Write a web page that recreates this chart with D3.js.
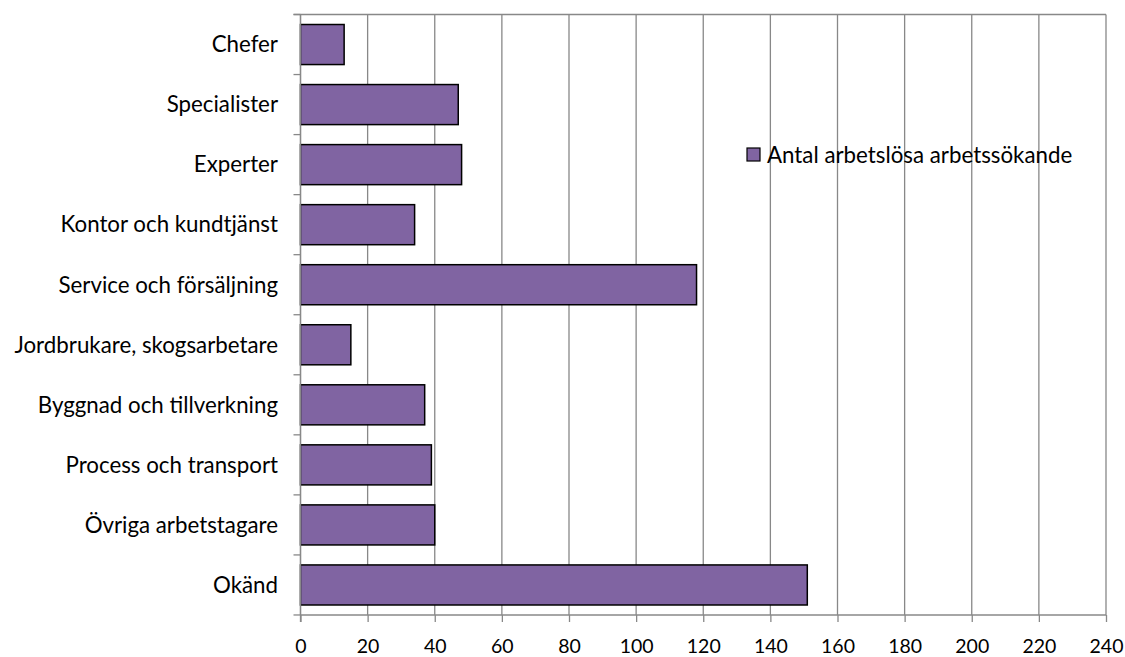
<!DOCTYPE html>
<html><head><meta charset="utf-8">
<script src="https://cdn.jsdelivr.net/npm/d3@7"></script>
<style>
html,body{margin:0;padding:0;background:#fff;}
text{font-family:Lato,"Open Sans",sans-serif;fill:#000;}
</style></head>
<body><svg id="c" width="1125" height="657"></svg>
<script>
const categories = ["Chefer","Specialister","Experter","Kontor och kundtjänst","Service och försäljning","Jordbrukare, skogsarbetare","Byggnad och tillverkning","Process och transport","Övriga arbetstagare","Okänd"];
const values = [13,47,48,34,118,15,37,39,40,151];
const xTicks = [0,20,40,60,80,100,120,140,160,180,200,220,240];
const seriesName = "Antal arbetslösa arbetssökande";

const svg = d3.select("#c");
const L=300.5, R=1106, T=14.5, B=615;
const gridColor="#888888";
const FS=22.3;
const x = d3.scaleLinear().domain([0,240]).range([L,R]);
const y = d3.scaleBand().domain(categories).range([T,B]).paddingInner(0.333).paddingOuter(0.1667);

// gridlines
svg.append("g").selectAll("line").data(xTicks).join("line")
  .attr("x1",d=>x(d)).attr("x2",d=>x(d)).attr("y1",T).attr("y2",B)
  .attr("stroke",gridColor).attr("stroke-width",1.3);
// top border
svg.append("line").attr("x1",L-7).attr("x2",R).attr("y1",T).attr("y2",T).attr("stroke",gridColor).attr("stroke-width",1.3);

// bars
svg.append("g").selectAll("rect").data(categories).join("rect")
  .attr("x",x(0)).attr("y",d=>y(d))
  .attr("width",(d,i)=>x(values[i])-x(0)).attr("height",y.bandwidth())
  .attr("fill","#8064A2").attr("stroke","#000").attr("stroke-width",1.5);

// x axis
const xAxis = d3.axisBottom(x).tickValues(xTicks).tickSize(7).tickPadding(17.5).tickFormat(d3.format("d"));
const gx = svg.append("g").attr("transform",`translate(0,${B})`).call(xAxis);
gx.select(".domain").attr("stroke",gridColor).attr("stroke-width",1.3).attr("d",`M${L},0H${R}`);
gx.selectAll(".tick line").attr("stroke",gridColor).attr("stroke-width",1.3);
gx.selectAll("text").attr("font-size",19.5).attr("font-family","Lato").attr("fill","#000");

// y axis
const step = y.step();
const bounds = d3.range(categories.length+1).map(i=>T+i*step);
svg.append("g").selectAll("line").data(bounds).join("line")
  .attr("x1",L-7).attr("x2",L).attr("y1",d=>d).attr("y2",d=>d)
  .attr("stroke",gridColor).attr("stroke-width",1.3);
svg.append("line").attr("x1",L).attr("x2",L).attr("y1",T).attr("y2",B+7).attr("stroke",gridColor).attr("stroke-width",1.3);
svg.append("g").selectAll("text").data(categories).join("text")
  .attr("x",278).attr("y",d=>y(d)+y.bandwidth()/2).attr("dy","0.35em")
  .attr("text-anchor","end").attr("font-size",FS).text(d=>d);

// legend
const lg = svg.append("g");
lg.append("rect").attr("x",747).attr("y",148).attr("width",13).attr("height",13)
  .attr("fill","#8064A2").attr("stroke","#000").attr("stroke-width",1.2);
lg.append("text").attr("x",767).attr("y",155).attr("dy","0.35em").attr("font-size",FS).text(seriesName);
</script></body></html>
